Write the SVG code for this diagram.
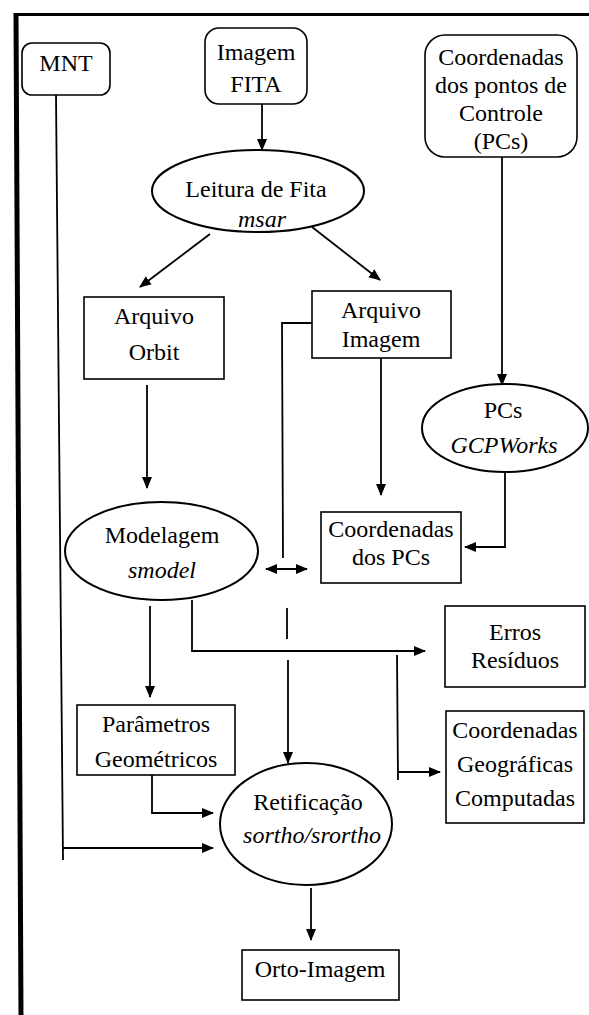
<svg xmlns="http://www.w3.org/2000/svg" width="589" height="1015" viewBox="0 0 589 1015">
<style>
.bx{fill:#fff;stroke:#000;stroke-width:1.6}
.el{fill:#fff;stroke:#000;stroke-width:2}
.t{font-family:"Liberation Serif","Times New Roman",serif;font-size:24px;text-anchor:middle;fill:#000}
.i{font-style:italic}
.c{fill:none;stroke:#000;stroke-width:1.8}
.a{marker-end:url(#ah)}
</style>
<defs>
<marker id="ah" markerUnits="userSpaceOnUse" markerWidth="12" markerHeight="12" viewBox="0 0 12 12" refX="11" refY="6" orient="auto-start-reverse">
<path d="M0,1 L12,6 L0,11 z" fill="#000"/>
</marker>
</defs>
<rect width="589" height="1015" fill="#fff"/>
<g id="frame" stroke="#000" fill="none">
<line x1="16" y1="13" x2="21" y2="1015" stroke-width="5"/>
<line x1="14" y1="14.5" x2="589" y2="14.5" stroke-width="3"/>
</g>
<g id="connectors">
<line class="c a" x1="262" y1="104" x2="262" y2="150"/>
<line class="c a" x1="210" y1="234" x2="140" y2="287"/>
<line class="c a" x1="312" y1="227" x2="380" y2="280"/>
<line class="c a" x1="502" y1="157" x2="502" y2="385"/>
<line class="c a" x1="147" y1="385" x2="147" y2="488"/>
<line class="c a" x1="381" y1="358" x2="381" y2="495"/>
<polyline class="c a" points="505,473 505,547 465,547"/>
<polyline class="c" points="312,323 282,323 283,558"/>
<line class="c a" x1="266" y1="569" x2="307" y2="569" style="marker-start:url(#ah)"/>
<line class="c" x1="287" y1="608" x2="287" y2="639"/>
<line class="c a" x1="288" y1="660" x2="288" y2="763"/>
<polyline class="c a" points="192,600 192,651 425,651"/>
<line class="c" x1="397" y1="655" x2="398" y2="780"/>
<line class="c a" x1="398" y1="772" x2="440" y2="772"/>
<line class="c a" x1="150" y1="606" x2="150" y2="697"/>
<polyline class="c a" points="152,775 152,813 213,813"/>
<line class="c" x1="56" y1="95" x2="63" y2="860"/>
<line class="c a" x1="63" y1="848" x2="213" y2="848"/>
<line class="c a" x1="311" y1="888" x2="311" y2="940"/>
</g>
<g id="mnt"><rect class="bx" x="22" y="43" width="88" height="52" rx="10"/><text class="t" x="66" y="71">MNT</text></g>
<g id="imagem-fita"><rect class="bx" x="205" y="28" width="102" height="76" rx="14"/><text class="t" x="256" y="60">Imagem</text><text class="t" x="256" y="92">FITA</text></g>
<g id="coord-pcs-input"><rect class="bx" x="425" y="35" width="152" height="122" rx="20"/><text class="t" x="501" y="65">Coordenadas</text><text class="t" x="501" y="93">dos pontos de</text><text class="t" x="501" y="121">Controle</text><text class="t" x="501" y="149">(PCs)</text></g>
<g id="leitura"><ellipse class="el" cx="258" cy="191" rx="106" ry="41"/><text class="t" x="256" y="197">Leitura de Fita</text><text class="t i" x="262" y="227">msar</text></g>
<g id="arquivo-orbit"><rect class="bx" x="84" y="297" width="140" height="82"/><text class="t" x="154" y="324">Arquivo</text><text class="t" x="154" y="360">Orbit</text></g>
<g id="arquivo-imagem"><rect class="bx" x="312" y="291" width="139" height="67"/><text class="t" x="381" y="318">Arquivo</text><text class="t" x="381" y="347">Imagem</text></g>
<g id="pcs"><ellipse class="el" cx="505" cy="428" rx="83" ry="44"/><text class="t" x="503" y="418">PCs</text><text class="t i" x="504" y="453">GCPWorks</text></g>
<g id="coord-dos-pcs"><rect class="bx" x="321" y="512" width="140" height="71"/><text class="t" x="391" y="537">Coordenadas</text><text class="t" x="391" y="565">dos PCs</text></g>
<g id="modelagem"><ellipse class="el" cx="161.5" cy="551" rx="96.5" ry="49"/><text class="t" x="162" y="543">Modelagem</text><text class="t i" x="162" y="578">smodel</text></g>
<g id="erros"><rect class="bx" x="445" y="606" width="140" height="81"/><text class="t" x="515" y="640">Erros</text><text class="t" x="515" y="668">Resíduos</text></g>
<g id="parametros"><rect class="bx" x="77" y="705" width="158" height="70"/><text class="t" x="156" y="732">Parâmetros</text><text class="t" x="156" y="767">Geométricos</text></g>
<g id="coord-geo"><rect class="bx" x="446" y="711" width="138" height="112"/><text class="t" x="515" y="738">Coordenadas</text><text class="t" x="515" y="772">Geográficas</text><text class="t" x="515" y="806">Computadas</text></g>
<g id="retificacao"><ellipse class="el" cx="306" cy="824" rx="86" ry="61"/><text class="t" x="308" y="810">Retificação</text><text class="t i" x="312" y="843">sortho/srortho</text></g>
<g id="orto"><rect class="bx" x="242" y="950" width="157" height="50"/><text class="t" x="320" y="977">Orto-Imagem</text></g>
</svg>
